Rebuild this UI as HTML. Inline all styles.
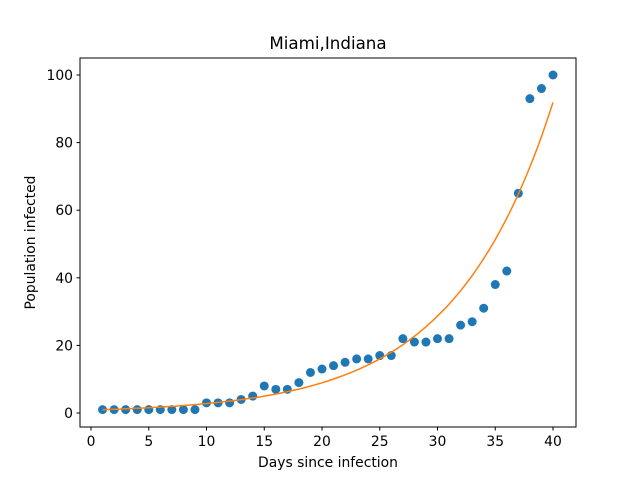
<!DOCTYPE html>
<html><head><meta charset="utf-8"><style>
body{margin:0;background:#fff}
text{font-family:"DejaVu Sans","Liberation Sans",sans-serif;fill:#000}
</style></head><body>
<svg id="chart" width="640" height="480" xmlns="http://www.w3.org/2000/svg">
<rect width="640" height="480" fill="#fff"/>
<text x="328" y="49" font-size="16.7" text-anchor="middle">Miami,Indiana</text>
<text x="328" y="467" font-size="13.9" text-anchor="middle">Days since infection</text>
<text transform="translate(35,242.5) rotate(-90)" font-size="13.9" text-anchor="middle">Population infected</text>
<g id="plot"></g>
<rect x="80" y="58" width="496" height="369" fill="none" stroke="#000" stroke-width="1"/>
</svg>
<script>
const days=[1,2,3,4,5,6,7,8,9,10,11,12,13,14,15,16,17,18,19,20,21,22,23,24,25,26,27,28,29,30,31,32,33,34,35,36,37,38,39,40];
const infected=[1,1,1,1,1,1,1,1,1,3,3,3,4,5,8,7,7,9,12,13,14,15,16,16,17,17,22,21,21,22,22,26,27,31,38,42,65,93,96,100];
const fitParams=[0.87,0.1165];
const xTicks=[0,5,10,15,20,25,30,35,40];
const yTicks=[0,20,40,60,80,100];
const X=v=>91+v*11.55, Y=v=>413-v*3.38;
const NS="http://www.w3.org/2000/svg", g=document.getElementById('plot');
function mk(t,a){const e=document.createElementNS(NS,t);for(const k in a)e.setAttribute(k,a[k]);g.appendChild(e);return e;}
xTicks.forEach(t=>{
 const l=mk('line',{x1:X(t),x2:X(t),y1:427,y2:430.5,stroke:'#000'});
 
 
 const s=mk('text',{x:X(t),y:446,'font-size':13.9,'text-anchor':'middle'});s.textContent=t;
 
 
});
yTicks.forEach(t=>{
 const l=mk('line',{x1:76.5,x2:80,y1:Y(t),y2:Y(t),stroke:'#000'});
 
 
 const s=mk('text',{x:73,y:Y(t)+5,'font-size':13.9,'text-anchor':'end'});s.textContent=t;
 
 
});
days.forEach((d,i)=>{
 const c=mk('circle',{cx:X(d),cy:Y(infected[i]),r:4.5,fill:'#1f77b4'});
 
 
});
let pts=[];
for(let x=days[0];x<=days[days.length-1]+1e-9;x+=0.25){pts.push(X(x).toFixed(1)+','+Y(fitParams[0]*Math.exp(fitParams[1]*x)).toFixed(1));}
const p=mk('polyline',{points:pts.join(' '),fill:'none',stroke:'#ff7f0e','stroke-width':1.5});


</script>
</body></html>
